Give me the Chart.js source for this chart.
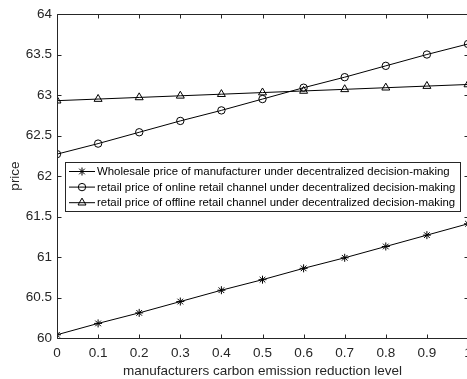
<!DOCTYPE html>
<html>
<head>
<meta charset="utf-8">
<script src="https://cdn.jsdelivr.net/npm/chart.js@4/dist/chart.umd.min.js"></script>
<style>
  html, body { margin: 0; padding: 0; background: #fff; overflow: hidden; }
  #wrap { position: relative; width: 495px; height: 379px; }
</style>
</head>
<body>
<div id="wrap"><canvas id="c" width="495" height="379"></canvas></div>
<script>
// ---- Data ----
const levels = [0, 0.1, 0.2, 0.3, 0.4, 0.5, 0.6, 0.7, 0.8, 0.9, 1];
const wholesale = [60.04, 60.18, 60.31, 60.45, 60.59, 60.72, 60.86, 60.99, 61.13, 61.27, 61.41];
const onlineRetail = [62.27, 62.40, 62.54, 62.68, 62.81, 62.95, 63.09, 63.22, 63.36, 63.50, 63.63];
const offlineRetail = [62.93, 62.95, 62.97, 62.99, 63.01, 63.03, 63.05, 63.07, 63.09, 63.11, 63.13];
const seriesNames = [
  'Wholesale price of manufacturer under decentralized decision-making',
  'retail price of online retail channel under decentralized decision-making',
  'retail price of offline retail channel under decentralized decision-making'
];
const xTickValues = [0, 0.1, 0.2, 0.3, 0.4, 0.5, 0.6, 0.7, 0.8, 0.9, 1];
const xTickLabels = ['0', '0.1', '0.2', '0.3', '0.4', '0.5', '0.6', '0.7', '0.8', '0.9', '1'];
const yTickValues = [60, 60.5, 61, 61.5, 62, 62.5, 63, 63.5, 64];
const yTickLabels = ['60', '60.5', '61', '61.5', '62', '62.5', '63', '63.5', '64'];
const xTitle = 'manufacturers carbon emission reduction level';
const yTitle = 'price';

const FONT = 'Arial, "Liberation Sans", Helvetica, sans-serif';
const AXIS_COLOR = '#262626';

function toPts(vals) { return levels.map((x, i) => ({ x: x, y: vals[i] })); }

function ds(label, vals, style, radius) {
  return {
    label: label,
    data: toPts(vals),
    borderColor: '#000',
    borderWidth: 1,
    backgroundColor: 'rgba(0,0,0,0)',
    pointStyle: style,
    pointRadius: radius,
    pointHoverRadius: radius,
    pointBorderColor: '#000',
    pointBackgroundColor: 'rgba(0,0,0,0)',
    pointBorderWidth: 1,
    tension: 0,
    fill: false
  };
}

// Box + inward ticks (MATLAB-style)
const boxPlugin = {
  id: 'boxTicks',
  afterDatasetsDraw(chart) {
    const { ctx, chartArea: a, scales } = chart;
    const L = Math.round(a.left) + 0.5, R = Math.round(a.right) + 0.5;
    const T = Math.round(a.top) + 0.5, B = Math.round(a.bottom) + 0.5;
    ctx.save();
    ctx.strokeStyle = AXIS_COLOR;
    ctx.lineWidth = 1;
    ctx.beginPath();
    ctx.rect(L, T, R - L, B - T);
    const tl = 4;
    xTickValues.forEach(v => {
      const px = Math.round(scales.x.getPixelForValue(v)) + 0.5;
      ctx.moveTo(px, B); ctx.lineTo(px, B - tl);
      ctx.moveTo(px, T); ctx.lineTo(px, T + tl);
    });
    yTickValues.forEach(v => {
      const py = Math.round(scales.y.getPixelForValue(v)) + 0.5;
      ctx.moveTo(L, py); ctx.lineTo(L + tl, py);
      ctx.moveTo(R, py); ctx.lineTo(R - tl, py);
    });
    ctx.stroke();
    ctx.restore();
  }
};

// Boxed legend inside the plot
const legendPlugin = {
  id: 'boxLegend',
  afterDraw(chart) {
    const { ctx } = chart;
    const x0 = 65.5, y0 = 162.5, w = 395, h = 49;
    ctx.save();
    ctx.fillStyle = '#fff';
    ctx.fillRect(x0, y0, w, h);
    ctx.strokeStyle = AXIS_COLOR;
    ctx.lineWidth = 1;
    ctx.strokeRect(x0, y0, w, h);
    ctx.font = '11.4px ' + FONT;
    ctx.textBaseline = 'middle';
    ctx.textAlign = 'left';
    chart.data.datasets.forEach((d, i) => {
      const cy = 171.5 + i * 15.6;
      ctx.strokeStyle = '#000';
      ctx.lineWidth = 1;
      ctx.beginPath();
      ctx.moveTo(69, cy); ctx.lineTo(95, cy);
      ctx.stroke();
      ctx.fillStyle = 'rgba(0,0,0,0)';
      Chart.helpers.drawPoint(ctx, {
        pointStyle: d.pointStyle, radius: d.pointRadius, rotation: 0, borderWidth: 1
      }, 82, cy);
      ctx.fillStyle = '#000';
      ctx.fillText(d.label, 97, cy + 0.5);
    });
    ctx.restore();
  }
};

new Chart(document.getElementById('c'), {
  type: 'line',
  data: {
    datasets: [
      ds(seriesNames[0], wholesale, 'star', 4),
      ds(seriesNames[1], onlineRetail, 'circle', 3.7),
      ds(seriesNames[2], offlineRetail, 'triangle', 4.6)
    ]
  },
  options: {
    responsive: false,
    animation: false,
    events: [],
    layout: { padding: { left: 0, right: 27, top: 14, bottom: 0 } },
    plugins: { legend: { display: false }, tooltip: { enabled: false } },
    scales: {
      x: {
        type: 'linear',
        min: 0, max: 1,
        afterBuildTicks(s) { s.ticks = xTickValues.map(v => ({ value: v })); },
        afterFit(s) { s.height = 41; },
        grid: { display: false, drawTicks: false },
        border: { display: false },
        ticks: {
          padding: 7,
          color: AXIS_COLOR,
          font: { family: FONT, size: 13.5 },
          maxRotation: 0,
          autoSkip: false,
          callback: (v, i) => xTickLabels[i]
        },
        title: {
          display: true, text: xTitle, color: AXIS_COLOR,
          font: { family: FONT, size: 13.5 }, padding: 0
        }
      },
      y: {
        type: 'linear',
        min: 60, max: 64,
        afterBuildTicks(s) { s.ticks = yTickValues.map(v => ({ value: v })); },
        afterFit(s) { s.width = 57; },
        grid: { display: false, drawTicks: false },
        border: { display: false },
        ticks: {
          padding: 5,
          color: AXIS_COLOR,
          font: { family: FONT, size: 13.5 },
          autoSkip: false,
          callback: (v, i) => yTickLabels[i]
        },
        title: {
          display: true, text: yTitle, color: AXIS_COLOR,
          font: { family: FONT, size: 13.5 }, padding: { top: 7, bottom: 0 }
        }
      }
    }
  },
  plugins: [boxPlugin, legendPlugin]
});
</script>
</body>
</html>
